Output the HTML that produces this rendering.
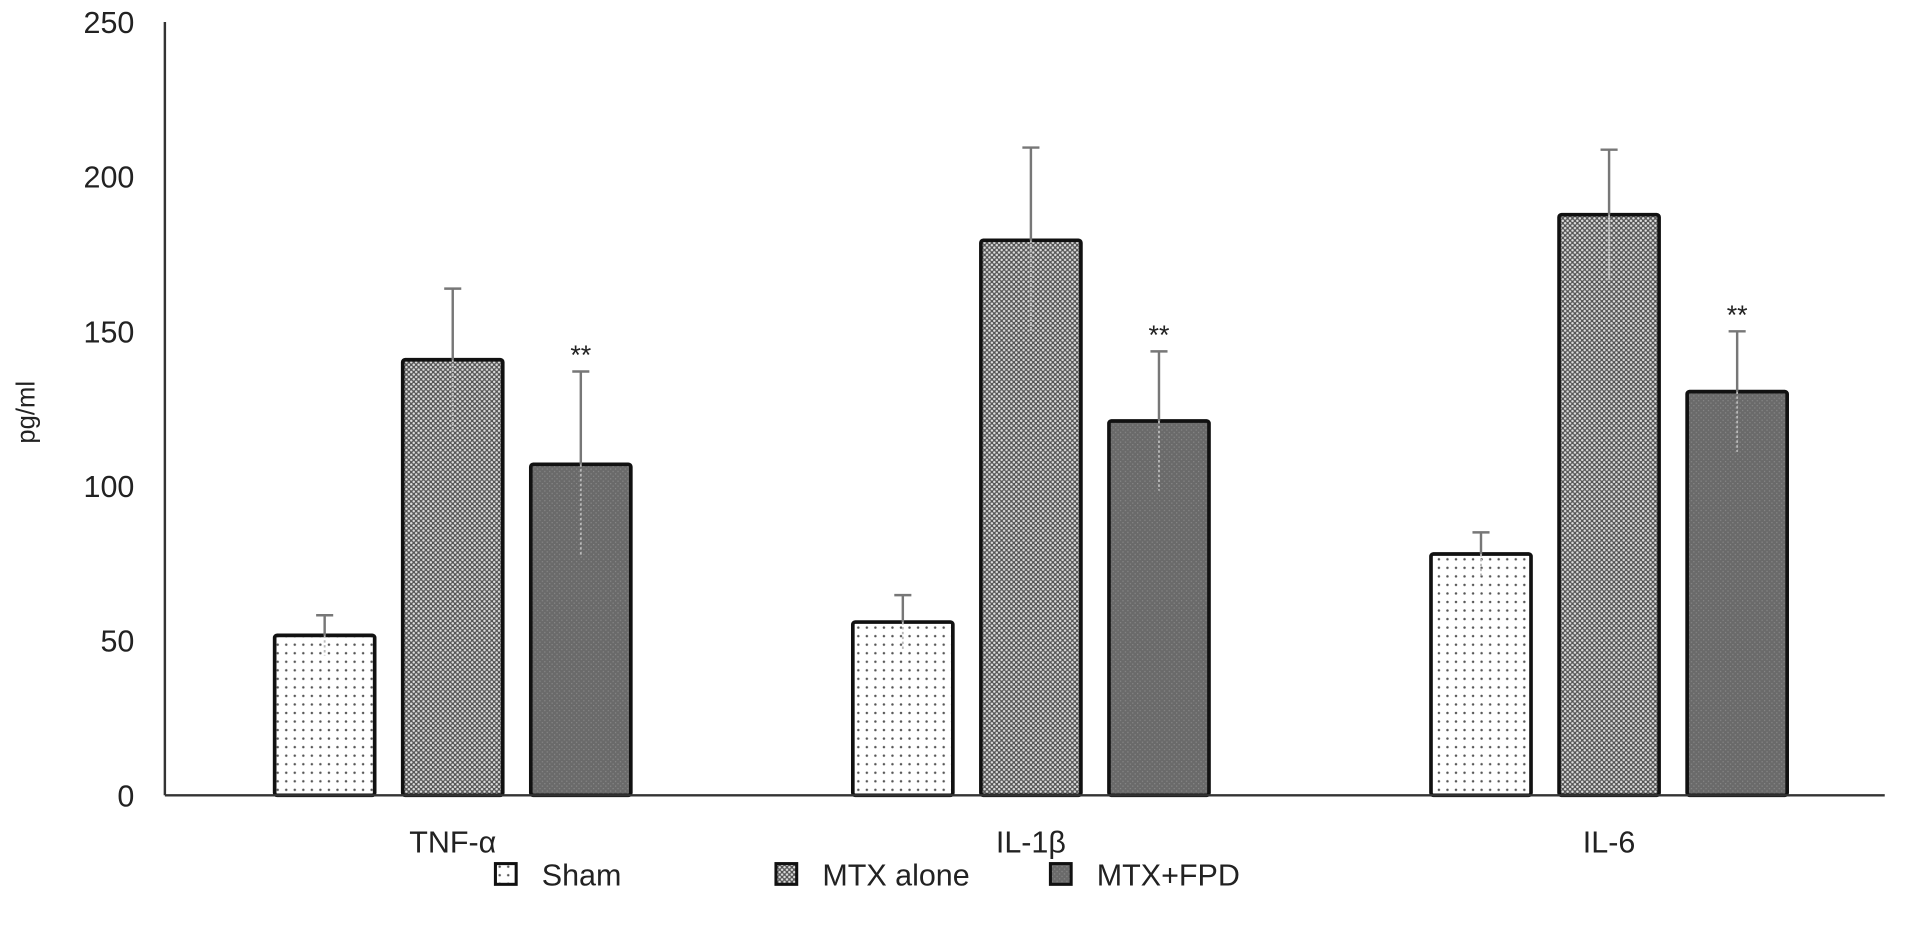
<!DOCTYPE html>
<html><head><meta charset="utf-8"><style>
html,body{margin:0;padding:0;background:#fff;}
svg{display:block;font-family:"Liberation Sans",Arial,sans-serif;}
</style></head><body>
<svg id="chart" width="1913" height="938" viewBox="0 0 1568 769" xmlns="http://www.w3.org/2000/svg">
<defs>
<pattern id="pSham" width="7" height="7" patternUnits="userSpaceOnUse"><rect width="7" height="7" fill="#fff"/><circle cx="3.5" cy="3.5" r="1" fill="#555"/></pattern>
<pattern id="pMtx" width="4" height="4" patternUnits="userSpaceOnUse"><rect width="4" height="4" fill="#555"/><circle cx="1" cy="1" r="1" fill="#ddd"/><circle cx="3" cy="3" r="1" fill="#ddd"/></pattern>
<pattern id="pFpd" width="4" height="4" patternUnits="userSpaceOnUse"><rect width="4" height="4" fill="#6a6a6a"/><rect x="0" y="0" width="1" height="1" fill="#888"/><rect x="2" y="2" width="1" height="1" fill="#888"/></pattern>
</defs>
<g id="plot"></g>
</svg>
<script>
const categories = ["TNF-\u03b1", "IL-1\u03b2", "IL-6"];
const seriesNames = ["Sham", "MTX alone", "MTX+FPD"];
const shamValues = [51.7, 56, 78];
const mtxValues = [140.8, 179.4, 187.7];
const fpdValues = [107, 121, 130.5];
const shamErrors = [6.5, 8.7, 7];
const mtxErrors = [23, 30, 21];
const fpdErrors = [30, 22.5, 19.5];
const yTicks = [0, 50, 100, 150, 200, 250];

const NS = "http://www.w3.org/2000/svg";
const g = document.getElementById("plot");
const x0 = 135, y0 = 652, yTop = 18, yMax = 250;
const groupStart = 225, groupStep = 474, barW = 82, barStep = 105;
const fills = ["url(#pSham)", "url(#pMtx)", "url(#pFpd)"];
const values = [shamValues, mtxValues, fpdValues];
const errors = [shamErrors, mtxErrors, fpdErrors];
function y(v){ return y0 - (y0 - yTop) * v / yMax; }
function xb(ci, si){ return groupStart + ci*groupStep + si*barStep; }
function el(tag, attrs, parent){ const e = document.createElementNS(NS, tag); for (const k in attrs) e.setAttribute(k, attrs[k]); (parent||g).appendChild(e); return e; }

yTicks.forEach(t => {
  const tx = el("text", {x: 110, y: y(t) + 9, "text-anchor": "end", "font-size": 25, fill: "#222"});
  tx.textContent = t;
  
  
});
const yt = el("text", {x: 28, y: 338, "text-anchor": "middle", "font-size": 21, fill: "#222", transform: "rotate(-90 28 338)"});
yt.textContent = "pg/ml";



categories.forEach((c, ci) => {
  values.forEach((vals, si) => {
    const bx = xb(ci, si), v = vals[ci], e = errors[si][ci];
    const cx = bx + barW/2;
    const r = el("rect", {x: bx, y: y(v), width: barW, height: y0 - y(v), fill: fills[si], stroke: "#111", "stroke-width": 3, rx: 2});
    
    
    const eb = el("line", {x1: cx, x2: cx, y1: y(v+e), y2: y(v), stroke: "#777", "stroke-width": 2});
    
    
    const eb2 = el("line", {x1: cx, x2: cx, y1: y(v), y2: y(v-e), stroke: "#bbb", "stroke-width": 1.5, "stroke-dasharray": "2 2"});
    
    
    const cap = el("line", {x1: cx-7, x2: cx+7, y1: y(v+e), y2: y(v+e), stroke: "#777", "stroke-width": 2});
    
    
    if (si === 2) {
      const s = el("text", {x: cx, y: y(v+e) - 6, "text-anchor": "middle", "font-size": 22, fill: "#222"});
      s.textContent = "**";
      
      
    }
  });
  const lab = el("text", {x: xb(ci,1) + barW/2, y: 699, "text-anchor": "middle", "font-size": 25, fill: "#222"});
  lab.textContent = c;
  
  
});

const ya = el("line", {x1: x0, x2: x0, y1: yTop, y2: y0, stroke: "#333", "stroke-width": 2});


const xa = el("line", {x1: x0, x2: 1545, y1: y0, y2: y0, stroke: "#333", "stroke-width": 2});



const legX = [406, 636, 861];
seriesNames.forEach((n, i) => {
  const lg = el("g", {});
  
  
  el("rect", {x: legX[i], y: 708, width: 17, height: 17, fill: fills[i], stroke: "#111", "stroke-width": 2.5}, lg);
  const t = el("text", {x: legX[i] + 38, y: 726, "font-size": 25, fill: "#222"}, lg);
  t.textContent = n;
});
</script>
</body></html>
